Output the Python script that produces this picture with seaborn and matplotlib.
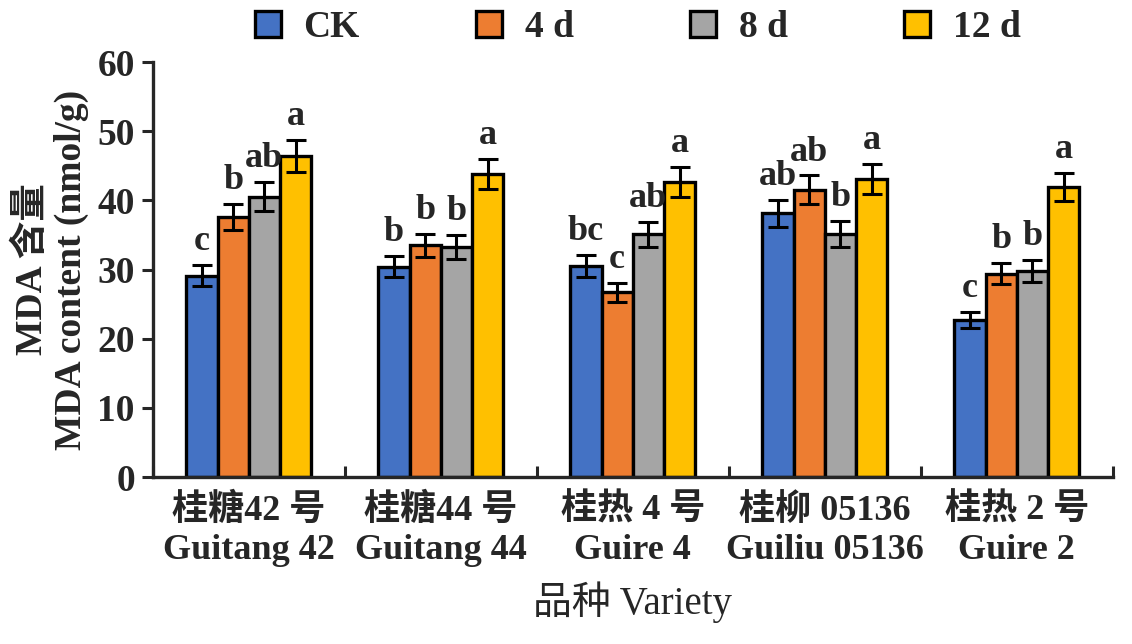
import matplotlib
matplotlib.use("Agg")
import matplotlib.pyplot as plt
import pandas as pd
import seaborn as sns

varieties = ["桂糖42 号\nGuitang 42", "桂糖44 号\nGuitang 44", "桂热 4 号\nGuire 4",
             "桂柳 05136\nGuiliu 05136", "桂热 2 号\nGuire 2"]
treatments = ["CK", "4 d", "8 d", "12 d"]

ck_mean = [29.1, 30.4, 30.5, 38.1, 22.7]
d4_mean = [37.6, 33.5, 26.7, 41.5, 29.4]
d8_mean = [40.5, 33.3, 35.1, 35.1, 29.8]
d12_mean = [46.4, 43.8, 42.7, 43.1, 41.9]

ck_err = [1.5, 1.5, 1.55, 1.9, 1.2]
d4_err = [1.9, 1.7, 1.4, 2.1, 1.55]
d8_err = [2.1, 1.75, 1.8, 1.85, 1.55]
d12_err = [2.3, 2.2, 2.15, 2.15, 2.05]

ck_letters = ["c", "b", "bc", "ab", "c"]
d4_letters = ["b", "b", "c", "ab", "b"]
d8_letters = ["ab", "b", "ab", "b", "b"]
d12_letters = ["a", "a", "a", "a", "a"]

colors = ["#4472C4", "#ED7D31", "#A5A5A5", "#FFC000"]

means = [ck_mean, d4_mean, d8_mean, d12_mean]
errs = [ck_err, d4_err, d8_err, d12_err]
letters = [ck_letters, d4_letters, d8_letters, d12_letters]

rows = []
for t, m, e, l in zip(treatments, means, errs, letters):
    for v, mv, ev, lv in zip(varieties, m, e, l):
        rows.append({"variety": v, "treatment": t, "mda": mv, "sd": ev, "sig": lv})
df = pd.DataFrame(rows)

sns.set_style("ticks")
plt.rcParams['font.family'] = ['Liberation Serif', 'Noto Sans CJK SC']
plt.rcParams['font.weight'] = 'bold'

fig = plt.figure(figsize=(11.32, 6.44), dpi=100)
ax = fig.add_axes([0.135, 0.2593, 0.848, 0.6444])

sns.barplot(data=df, x="variety", y="mda", hue="treatment", palette=colors,
            order=varieties, hue_order=treatments, width=0.65, gap=0,
            saturation=1, errorbar=None, edgecolor="black", linewidth=2.4, ax=ax)

# error bars and significance letters, bar by bar
for i, t in enumerate(treatments):
    cont = ax.containers[i]
    sub = df[df["treatment"] == t].set_index("variety").loc[varieties]
    for bar, mv, ev, lv in zip(cont, sub["mda"], sub["sd"], sub["sig"]):
        xc = bar.get_x() + bar.get_width() / 2
        ax.errorbar(xc, mv, yerr=ev, fmt="none", ecolor="black",
                    elinewidth=2.2, capsize=7, capthick=2.2)
        ax.annotate(lv, (xc, mv + ev), xytext=(0, 5), textcoords="offset points",
                    ha="center", va="bottom", fontsize=26, fontweight="bold")

ax.set_ylim(0, 60)
ax.set_yticks(range(0, 61, 10))
ax.set_xlim(-0.5, 4.5)
ax.tick_params(axis="y", direction="out", length=8, width=2.2, labelsize=27, pad=5)
ax.tick_params(axis="x", which="major", length=0, labelsize=26, pad=12)
ax.set_xticks([x - 0.5 for x in range(6)], minor=True)
ax.tick_params(axis="x", which="minor", direction="in", length=8, width=2.2)
for lab in ax.get_xticklabels():
    lab.set_linespacing(1.25)
for lab in ax.get_xticklabels() + ax.get_yticklabels():
    lab.set_fontweight("bold")

sns.despine(ax=ax)
ax.spines["left"].set_linewidth(2.4)
ax.spines["bottom"].set_linewidth(2.4)

ax.set_xlabel("品种 Variety", fontsize=28, fontweight="normal", labelpad=10)
ax.set_ylabel("MDA 含量\nMDA content (nmol/g)", fontsize=27, fontweight="bold",
              linespacing=1.15, labelpad=6)

ax.legend(loc="center", bbox_to_anchor=(0.505, 1.082), ncol=4, frameon=False,
          handlelength=0.7, handleheight=0.7, handletextpad=0.6,
          columnspacing=3.1, prop={"weight": "bold", "size": 27})

fig.savefig("out.png", dpi=100)
